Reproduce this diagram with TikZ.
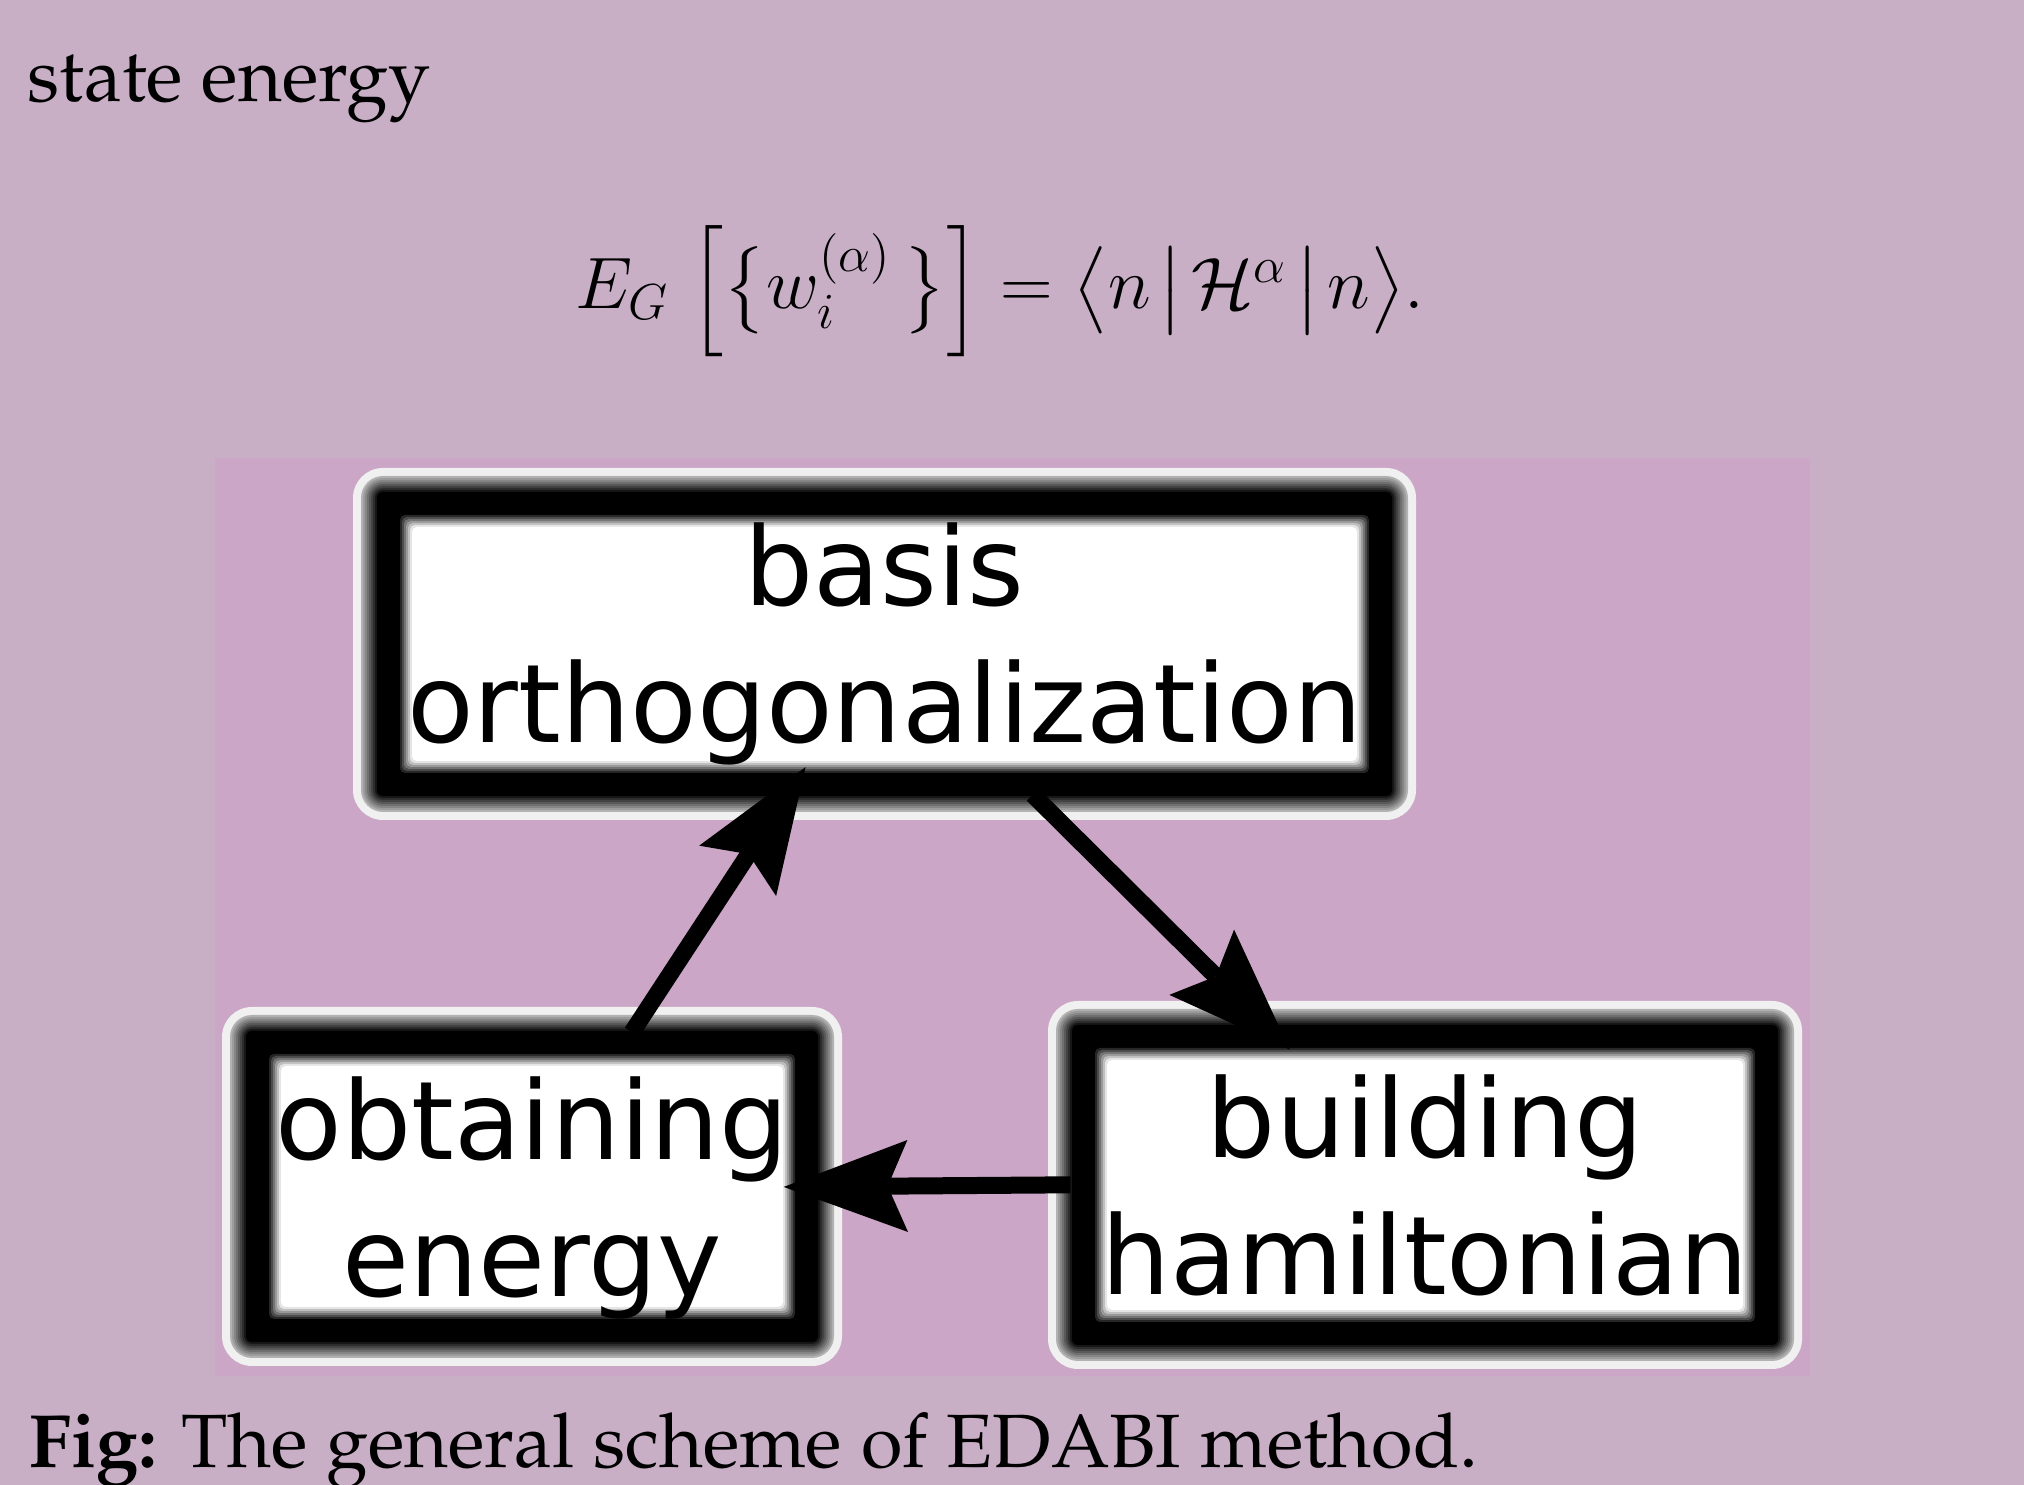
\documentclass[tikz,border=0pt]{standalone}
\usepackage{amsmath}
\usepackage[T1,TU]{fontenc}
\usepackage{fontspec}
\usetikzlibrary{arrows.meta}
\newfontfamily\boxfont{DejaVu Sans}
\newcommand{\pala}{\fontencoding{T1}\fontfamily{ppl}\selectfont}
\definecolor{pagebg}{RGB}{200,175,198}
\definecolor{panelbg}{RGB}{204,166,199}
\tikzset{
  stepbox/.style={rectangle, rounded corners=0.3cm, fill=gray!12, inner sep=0pt, align=center,
    font=\boxfont\fontsize{31}{39}\selectfont,
    path picture={
      \foreach \k in {0,...,8} {
        \pgfmathsetmacro\d{0.08+\k*0.02}
        \pgfmathsetmacro\s{30+\k*70/8}
        \pgfmathsetmacro\r{max(0.3-\d,0.05)}
        \fill[black!\s, rounded corners=\r cm] ([shift={(\d,\d)}]path picture bounding box.south west) rectangle ([shift={(-\d,-\d)}]path picture bounding box.north east);
      }
      \foreach \k in {0,...,6} {
        \pgfmathsetmacro\d{0.45+\k*0.02}
        \pgfmathsetmacro\s{100-\k*15}
        \pgfmathsetmacro\r{max(0.3-\d,0.05)}
        \fill[black!\s, rounded corners=\r cm] ([shift={(\d,\d)}]path picture bounding box.south west) rectangle ([shift={(-\d,-\d)}]path picture bounding box.north east);
      }
      \fill[white, rounded corners=0.05cm] ([shift={(0.59,0.59)}]path picture bounding box.south west) rectangle ([shift={(-0.59,-0.59)}]path picture bounding box.north east);
    }},
  flow/.style={line width=0.17cm, -{Stealth[length=1.24cm, width=0.92cm, inset=0.2cm, line width=0pt]}}
}
\begin{document}
\begin{tikzpicture}
\useasboundingbox (0,0) rectangle (20.24,14.85);
\fill[pagebg] (0,0) rectangle (20.24,14.85);
\fill[panelbg] (2.15,1.09) rectangle (18.10,10.27);

% text above
\node[anchor=base west, inner sep=0pt] (head) at (0.27,13.83) {\pala\fontsize{21.5}{26}\selectfont state energy};
\node[anchor=base, inner sep=0pt] (eq) at (10.0,11.76) {\fontsize{21}{25}\selectfont
  $E_G\;\Big[\big\{w_i^{(\alpha)}\,\big\}\Big] = \big\langle n\mkern2mu\big|\mkern2mu\mathcal{H}^{\alpha}\mkern2mu\big|\mkern2mu n\big\rangle.$};

% boxes
\node[stepbox, minimum width=10.63cm, minimum height=3.52cm] (basis) at (8.845,8.41) {basis\\orthogonalization};
\node[stepbox, minimum width=6.20cm, minimum height=3.59cm, text depth=0pt] (obt) at (5.32,2.985) {obtaining\\energy};
\node[stepbox, minimum width=7.54cm, minimum height=3.68cm] (build) at (14.25,3.0) {building\\hamiltonian};

% arrows
\draw[flow, shorten <=-0.31cm, shorten >=-0.64cm] ([xshift=1.17cm]obt.north) -- ([xshift=-1.14cm]basis.south);
\draw[flow, shorten <=-0.37cm, shorten >=-0.70cm] ([xshift=1.745cm]basis.south) -- ([xshift=-1.85cm]build.north);
\draw[flow, shorten <=-0.23cm, shorten >=-0.59cm] (build.west) -- (obt.east);

% caption
\node[anchor=base west, inner sep=0pt] (cap) at (0.29,0.17) {\pala\fontsize{21.5}{26}\selectfont\textbf{Fig:} The general scheme of EDABI method.};
\end{tikzpicture}
\end{document}
